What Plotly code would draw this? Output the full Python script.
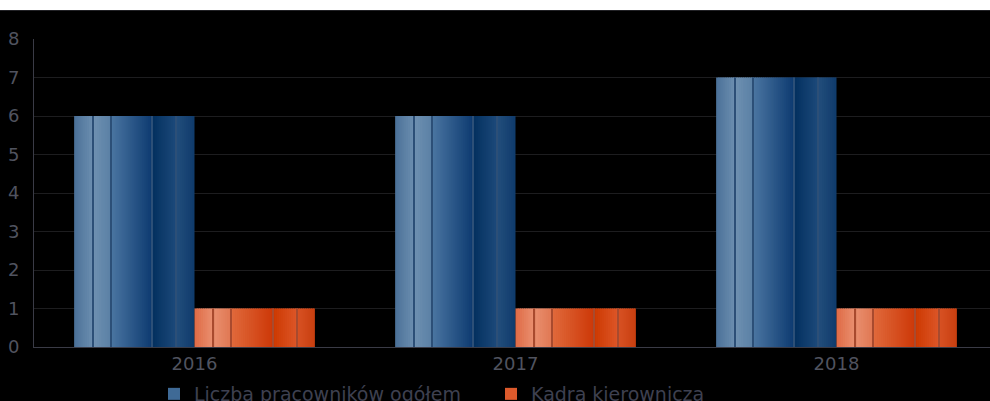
import plotly.graph_objects as go

categories = ["2016", "2017", "2018"]
total_staff = [6, 6, 7]
management = [1, 1, 1]
series_names = ["Liczba pracowników ogółem", "Kadra kierownicza"]
y_ticks = [0, 1, 2, 3, 4, 5, 6, 7, 8]

# gradient segments (fraction start, fraction end, colour start, colour end)
blue_segments = [
    (0.00, 0.158, "#4a7098", "#6d8fb0"),
    (0.158, 0.305, "#6f91b1", "#5a80a5"),
    (0.305, 0.65, "#4b76a2", "#0d3a70"),
    (0.65, 0.85, "#03305f", "#1d4a7b"),
    (0.85, 1.00, "#234e7c", "#0f3b6b"),
]
orange_segments = [
    (0.00, 0.158, "#df6a45", "#ea9272"),
    (0.158, 0.305, "#e98f6f", "#e07752"),
    (0.305, 0.65, "#e06a3c", "#cd3808"),
    (0.65, 0.85, "#cc3800", "#dd5628"),
    (0.85, 1.00, "#d85225", "#c83f0f"),
]
blue_line = "#2c4f77"
orange_line = "#a84a2e"

BAR_W = 0.375
PX = 1 / 321.0


def hex2rgb(h):
    h = h.lstrip("#")
    return tuple(int(h[i:i + 2], 16) for i in (0, 2, 4))


def mix(c1, c2, t):
    a, b = hex2rgb(c1), hex2rgb(c2)
    return "rgb(%d,%d,%d)" % tuple(round(a[i] + (b[i] - a[i]) * t) for i in range(3))


fig = go.Figure()


def add_series(values, segments, line_col, base_off, name, legend_col, legend_id):
    for (f0, f1, c0, c1) in segments:
        n = max(2, int(round((f1 - f0) * 60)))
        for k in range(n):
            s0 = f0 + (f1 - f0) * k / n
            s1 = f0 + (f1 - f0) * (k + 1) / n
            t = (k + 0.5) / n
            w = (s1 - s0) * BAR_W
            ext = w * 0.6 if s1 < 0.999 else 0
            fig.add_trace(go.Bar(
                x=categories, y=values,
                width=[w + ext] * len(categories),
                offset=[base_off + s0 * BAR_W] * len(categories),
                marker=dict(color=mix(c0, c1, t), line=dict(width=0)),
                showlegend=False, hoverinfo="skip", legendgroup=name,
            ))
    for (f0, f1, c0, c1) in segments[1:]:
        fig.add_trace(go.Bar(
            x=categories, y=values,
            width=[PX * 1.2] * len(categories),
            offset=[base_off + f0 * BAR_W - PX * 0.6] * len(categories),
            marker=dict(color=line_col, line=dict(width=0)),
            showlegend=False, hoverinfo="skip", legendgroup=name,
        ))
    # legend entry
    fig.add_trace(go.Bar(
        x=categories, y=[None] * len(categories), name=name,
        marker=dict(color=legend_col, line=dict(width=0)),
        legendgroup=name, showlegend=True, legend=legend_id,
    ))


add_series(total_staff, blue_segments, blue_line, -BAR_W, series_names[0], "#3f6a96", "legend")
add_series(management, orange_segments, orange_line, 0.0, series_names[1], "#dc5a2c", "legend2")

H = 440
plot_top, plot_bot = 39, 347
plot_h = plot_bot - plot_top
plot_w = 990 - 34

legend_style = dict(
    orientation="h", xanchor="left",
    y=(plot_bot - 375) / plot_h, yanchor="top",
    font=dict(family="DejaVu Sans", size=19, color="#3e4050"),
    bgcolor="rgba(0,0,0,0)", itemwidth=30, tracegroupgap=0,
)

fig.update_layout(
    width=990, height=H,
    margin=dict(l=34, r=0, t=plot_top, b=H - plot_bot, pad=0),
    paper_bgcolor="#000000", plot_bgcolor="#000000",
    barmode="overlay", bargap=0.25,
    font=dict(family="DejaVu Sans", size=18, color="#50535f"),
    showlegend=True,
    legend=dict(x=(154 - 34) / plot_w, **legend_style),
    legend2=dict(x=(491 - 34) / plot_w, **legend_style),
    xaxis=dict(
        type="category", range=[-0.5, 2.5 - 7 / 321],
        showgrid=False, showline=True, linecolor="#3a3b46", linewidth=1,
        ticks="", tickfont=dict(size=18, color="#50535f"), zeroline=False,
        fixedrange=True,
    ),
    yaxis=dict(
        range=[0, 8], tickvals=y_ticks, showgrid=True, gridcolor="#1d1d1f",
        gridwidth=1, showline=True, linecolor="#3a3b46", linewidth=1,
        ticks="outside", ticklen=10, tickcolor="rgba(0,0,0,0)",
        tickfont=dict(size=18, color="#50535f"), zeroline=False,
    ),
    shapes=[
        dict(type="rect", xref="paper", yref="paper",
             x0=-0.1, x1=1.1, y0=(plot_bot - 10) / plot_h, y1=1.3,
             fillcolor="#ffffff", line=dict(width=0), layer="above"),
        dict(type="line", xref="paper", yref="paper",
             x0=-0.1, x1=1.1, y0=(plot_bot - 10.5) / plot_h, y1=(plot_bot - 10.5) / plot_h,
             line=dict(width=1, color="#222226")),
    ],
)

fig.write_html(
    "out.html",
    config={"displayModeBar": False},
    post_script="document.body.style.margin='0';document.body.style.overflow='hidden';",
)
